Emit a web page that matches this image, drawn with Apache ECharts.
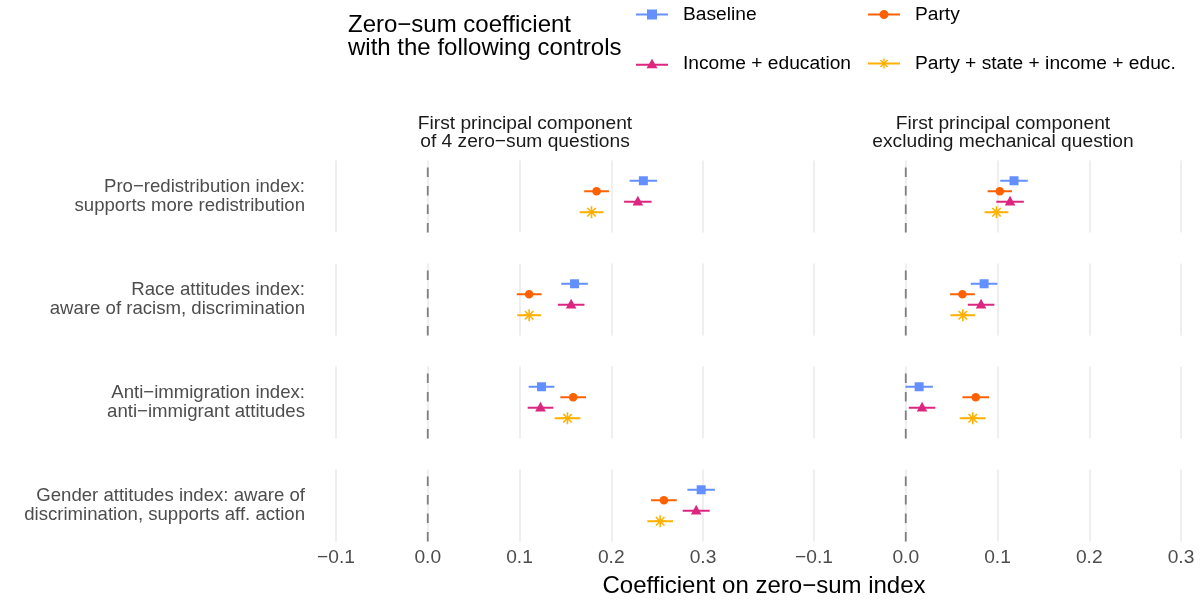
<!DOCTYPE html>
<html>
<head>
<meta charset="utf-8">
<script src="https://cdn.jsdelivr.net/npm/echarts@6/dist/echarts.min.js"></script>
<style>
  html, body { margin: 0; padding: 0; background: #fff; }
  #chart { width: 1201px; height: 600px; }
</style>
</head>
<body>
<div id="chart"></div>
<script>
// controls (legend entries), in plotting order
const controls = ['Baseline', 'Party', 'Income + education', 'Party + state + income + educ.'];
const colors = ['#648FFF', '#FE6100', '#DC267F', '#FFB000'];

const panelTitles = [
  'First principal component\nof 4 zero\u2212sum questions',
  'First principal component\nexcluding mechanical question'
];
const outcomeLabels = [
  'Pro\u2212redistribution index:\nsupports more redistribution',
  'Race attitudes index:\naware of racism, discrimination',
  'Anti\u2212immigration index:\nanti\u2212immigrant attitudes',
  'Gender attitudes index: aware of\ndiscrimination, supports aff. action'
];
const xTicks = [-0.1, 0, 0.1, 0.2, 0.3];

// point estimates: one row per control, one column per outcome
const pcAllEst = [
  [0.235, 0.160, 0.124, 0.298],
  [0.184, 0.1105, 0.1585, 0.2574],
  [0.229, 0.1563, 0.1229, 0.2926],
  [0.1785, 0.1105, 0.1523, 0.2533]
];
// half width of the confidence interval
const pcAllCi = [
  [0.015, 0.0145, 0.014, 0.015],
  [0.0135, 0.0135, 0.014, 0.014],
  [0.015, 0.0145, 0.014, 0.0147],
  [0.013, 0.013, 0.014, 0.014]
];
const pcExclEst = [
  [0.118, 0.0854, 0.0146, null],
  [0.1025, 0.0618, 0.0763, null],
  [0.1137, 0.0821, 0.0178, null],
  [0.0989, 0.0622, 0.0730, null]
];
const pcExclCi = [
  [0.015, 0.0145, 0.015, null],
  [0.0133, 0.0135, 0.0145, null],
  [0.015, 0.0145, 0.0145, null],
  [0.013, 0.0135, 0.0142, null]
];

const estByPanel = [pcAllEst, pcExclEst];
const ciByPanel = [pcAllCi, pcExclCi];

const FONT = "'Liberation Sans', Arial, Helvetica, sans-serif";
const colLeft = [336, 814];
const panelW = 367;
const rowTop = [160.5, 263.5, 366.5, 469.5];
const panelH = 72;

// legend icons: 32x10 box, errorbar line + marker
const legendIcons = [
  'path://M0,4L32,4L32,6L0,6ZM11,0L21,0L21,10L11,10Z',
  'path://M0,4L32,4L32,6L0,6ZM11.5,5A4.5,4.5 0 1,1 20.5,5A4.5,4.5 0 1,1 11.5,5Z',
  'path://M0,5L32,5L32,7L0,7ZM16,0L21.5,9.7L10.5,9.7Z',
  'path://M0,4L32,4L32,6L0,6ZM15.3,0L16.7,0L16.7,10L15.3,10Z' +
    'M12.955,0.965L20.035,8.045L19.045,9.035L11.965,1.955Z' +
    'M20.035,1.955L12.955,9.035L11.965,8.045L19.045,0.965Z'
];

function marker(kind, x, y, color) {
  if (kind === 0) {
    return { type: 'rect', shape: { x: x - 4.5, y: y - 4.5, width: 9, height: 9 }, style: { fill: color } };
  }
  if (kind === 1) {
    return { type: 'circle', shape: { cx: x, cy: y, r: 4.3 }, style: { fill: color } };
  }
  if (kind === 2) {
    return { type: 'polygon', shape: { points: [[x, y - 6], [x + 5.3, y + 3.7], [x - 5.3, y + 3.7]] }, style: { fill: color } };
  }
  const a = 6, d = 4.24;
  const st = { stroke: color, lineWidth: 1.6 };
  return {
    type: 'group',
    children: [
      { type: 'line', shape: { x1: x - a, y1: y, x2: x + a, y2: y }, style: st },
      { type: 'line', shape: { x1: x, y1: y - a, x2: x, y2: y + a }, style: st },
      { type: 'line', shape: { x1: x - d, y1: y - d, x2: x + d, y2: y + d }, style: st },
      { type: 'line', shape: { x1: x - d, y1: y + d, x2: x + d, y2: y - d }, style: st }
    ]
  };
}

function makeRender(kind, color) {
  return function (params, api) {
    const yv = api.value(3);
    const c = api.coord([api.value(0), yv]);
    const lo = api.coord([api.value(1), yv]);
    const hi = api.coord([api.value(2), yv]);
    return {
      type: 'group',
      children: [
        { type: 'line', shape: { x1: lo[0], y1: c[1], x2: hi[0], y2: c[1] }, style: { stroke: color, lineWidth: 2 } },
        marker(kind, c[0], c[1], color)
      ]
    };
  };
}

function zeroLine(params, api) {
  const x = api.coord([api.value(0), 0])[0];
  const cs = params.coordSys;
  return {
    type: 'line',
    shape: { x1: x, y1: cs.y + cs.height, x2: x, y2: cs.y },
    style: { stroke: '#7F7F7F', lineWidth: 1.8, lineDash: [9.5, 9] }
  };
}

const tickFmt = v => (v < -1e-9 ? '\u2212' : '') + Math.abs(v).toFixed(1);

const grids = [], xAxes = [], yAxes = [], series = [];
for (let r = 0; r < outcomeLabels.length; r++) {
  for (let p = 0; p < 2; p++) {
    const i = r * 2 + p;
    grids.push({ left: colLeft[p], top: rowTop[r], width: panelW, height: panelH });
    xAxes.push({
      gridIndex: i, type: 'value',
      min: xTicks[0], max: xTicks[xTicks.length - 1], interval: 0.1,
      axisLine: { show: false }, axisTick: { show: false },
      splitLine: { show: true, lineStyle: { color: '#EBEBEB', width: 1.6 } },
      axisLabel: { show: r === outcomeLabels.length - 1, formatter: tickFmt, fontSize: 19.2, color: '#4D4D4D', margin: 7, fontFamily: FONT }
    });
    yAxes.push({ gridIndex: i, type: 'value', min: -1.93, max: 4.93, inverse: true, show: false });

    series.push({ type: 'custom', name: 'zero', xAxisIndex: i, yAxisIndex: i, silent: true, z: 1, data: [[0]], renderItem: zeroLine });
    for (let c = 0; c < controls.length; c++) {
      const est = estByPanel[p][c][r];
      if (est == null) continue;
      const ci = ciByPanel[p][c][r];
      series.push({
        type: 'custom', name: controls[c], xAxisIndex: i, yAxisIndex: i, z: 2,
        itemStyle: { color: colors[c] },
        data: [[est, est - ci, est + ci, c]],
        renderItem: makeRender(c, colors[c])
      });
    }
  }
}
// row labels on the left panels
for (let r = 0; r < outcomeLabels.length; r++) {
  yAxes.push({
    gridIndex: r * 2, type: 'category', position: 'left', data: [outcomeLabels[r]],
    axisLine: { show: false }, axisTick: { show: false }, splitLine: { show: false },
    axisLabel: { align: 'right', margin: 31, fontSize: 18.6, lineHeight: 19, color: '#4D4D4D', fontFamily: FONT }
  });
}

const legendText = { fontSize: 19.2, color: '#000', fontFamily: FONT, padding: [0, 0, 0, 10] };
const legendItem = c => ({ name: controls[c], icon: legendIcons[c], itemStyle: { color: colors[c] } });

const graphic = [
  {
    type: 'text', x: 348, y: 37,
    style: { text: 'Zero\u2212sum coefficient\nwith the following controls', font: '24px ' + FONT, fill: '#000', lineHeight: 23, textVerticalAlign: 'middle' }
  },
  {
    type: 'text', x: 764, y: 586,
    style: { text: 'Coefficient on zero\u2212sum index', font: '24px ' + FONT, fill: '#000', textAlign: 'center', textVerticalAlign: 'middle' }
  }
];
panelTitles.forEach((t, p) => {
  graphic.push({
    type: 'text', x: colLeft[p] + 189, y: 132.5,
    style: { text: t, font: '19.2px ' + FONT, fill: '#1A1A1A', lineHeight: 18, textAlign: 'center', textVerticalAlign: 'middle' }
  });
});

const chart = echarts.init(document.getElementById('chart'));
chart.setOption({
  animation: false,
  textStyle: { fontFamily: FONT },
  grid: grids,
  xAxis: xAxes,
  yAxis: yAxes,
  legend: [
    { left: 636, top: 5, orient: 'vertical', itemGap: 30, itemWidth: 32, itemHeight: 10, padding: 0, selectedMode: false, textStyle: legendText, data: [legendItem(0), legendItem(2)] },
    { left: 868, top: 5, orient: 'vertical', itemGap: 30, itemWidth: 32, itemHeight: 10, padding: 0, selectedMode: false, textStyle: legendText, data: [legendItem(1), legendItem(3)] }
  ],
  graphic: graphic,
  series: series
});
</script>
</body>
</html>
